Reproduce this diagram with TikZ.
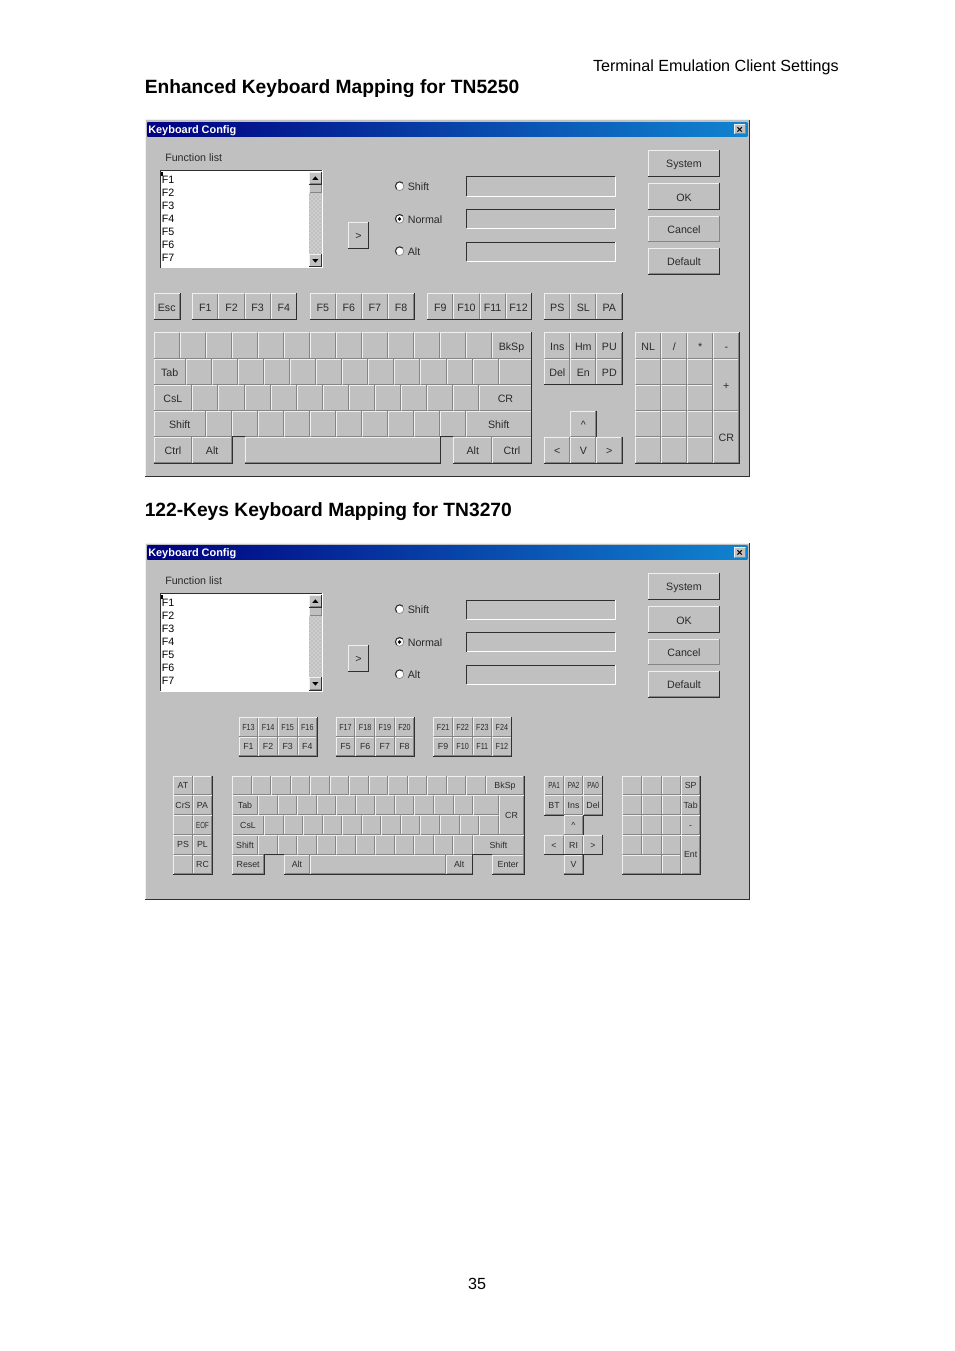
\documentclass[tikz,border=0pt]{standalone}
\usepackage{fontspec}
\setmainfont{Liberation Sans}
\usepackage{xcolor}
\usetikzlibrary{positioning, calc, patterns}

\definecolor{panelgrey}{HTML}{C0C0C0}
\definecolor{keylight}{HTML}{F0F0F0}
\definecolor{keygrey}{HTML}{858585}
\definecolor{keydark}{HTML}{303030}
\definecolor{uitext}{HTML}{2A2A2A}
\definecolor{titleleft}{HTML}{000080}
\definecolor{titleright}{HTML}{1084D0}

\newcommand{\uifont}{\fontsize{8}{8}\selectfont}
\newcommand{\tinyuifont}{\fontsize{6.6}{6.6}\selectfont}
\newcommand{\narrowlabel}[2]{\scalebox{#1}[1]{#2}}

\tikzset{
	keycap/.style={rectangle, fill=panelgrey, inner sep=0pt, outer sep=0pt, anchor=north west, font=\uifont, text=uitext, text height=6.8pt, text depth=0pt},
	keylite/.style={draw=keylight, line width=0.75pt},
	keyshade/.style={draw=keygrey, line width=0.75pt},
	keyrim/.style={draw=keydark, line width=0.75pt},
	radiobox/.style={circle, fill=white, draw=keygrey, line width=0.5pt, inner sep=0pt, minimum size=6.4pt},
	uilabel/.style={font=\uifont, text=uitext, inner sep=0pt, text height=6.8pt, text depth=0pt},
	pageline/.style={font=\fontsize{12.1}{12.1}\selectfont, inner sep=0pt},
	headline/.style={font=\fontsize{14.4}{14.4}\selectfont\bfseries, inner sep=0pt, anchor=base west},
}

% name, left, top, right, bottom, label
\newcommand{\keycap}[6]{%
	\node[keycap, minimum width={((#4)-(#2))*0.75pt}, minimum height={((#5)-(#3))*0.75pt}] (#1) at (#2,#3) {#6};
	\draw[keylite] ([shift={(.5,-.5)}]#1.south west) |- ([shift={(-.5,.5)}]#1.north east);
	\draw[keyshade] ([shift={(.5,-.5)}]#1.south west) -| ([shift={(-.5,.5)}]#1.north east);
}
% sunken box
\newcommand{\sunkenbox}[6]{%
	\node[keycap, fill=#6, minimum width={((#4)-(#2))*0.75pt}, minimum height={((#5)-(#3))*0.75pt}] (#1) at (#2,#3) {};
	\draw[draw=white, line width=0.75pt] ([shift={(.5,-.5)}]#1.south west) -| ([shift={(-.5,.5)}]#1.north east);
	\draw[keyrim] ([shift={(.5,-.5)}]#1.south west) |- ([shift={(-.5,.5)}]#1.north east);
}
% row of plain keys: prefix, first left, pitch, count, top, bottom
\newcommand{\keyrow}[6]{%
	\foreach \i in {1,...,#4} {
		\pgfmathsetmacro{\xa}{#2+(\i-1)*#3}
		\pgfmathsetmacro{\xb}{#2+\i*#3}
		\keycap{#1\i}{\xa}{#5}{\xb}{#6}{}
	}
}
% the part both windows share
\newcommand{\configwindow}[1]{%
	\node[rectangle, fill=panelgrey, inner sep=0pt, anchor=north west, minimum width=453pt, minimum height=267pt] (#1win) at (145,120) {};
	\draw[draw=keylight, line width=0.75pt] (#1win.south west) |- (#1win.north east);
	\draw[draw=keydark, line width=0.75pt] (#1win.south west) -| (#1win.north east);
	\node[rectangle, left color=titleleft, right color=titleright, inner sep=0pt, anchor=north west, minimum width=450pt, minimum height=11pt] (#1title) at (147,122) {};
	\node[font=\fontsize{8.2}{8.2}\selectfont\bfseries, text=white, inner sep=0pt, anchor=west] (#1caption) at (148,131) {Keyboard Config};
	\keycap{#1close}{734}{124}{745.5}{134.5}{\textcolor{black}{\textbf{×}}}

	% list
	\node[uilabel, anchor=west] (#1funclabel) at (165,157) {Function list};
	\sunkenbox{#1list}{160}{170}{322.7}{268.5}{white}
	\foreach \t [count=\j from 0] in {F1,F2,F3,F4,F5,F6,F7} {
		\pgfmathsetmacro{\yy}{179+13*\j}
		\node[uilabel, text=black, anchor=west] (#1item\j) at (161.5,\yy) {\t};
	}
	\node[rectangle, fill=black, inner sep=0pt, minimum width=0.9pt, minimum height=3pt, anchor=north] (#1cursor) at (162,172) {};
	\node[keycap, fill=panelgrey, postaction={pattern=crosshatch dots, pattern color=white}, minimum width=9.5pt, minimum height=46pt] (#1track) at (309,192.7) {};
	\keycap{#1sbup}{309}{172.3}{321.7}{184.3}{}
	\keycap{#1sbthumb}{309}{184.3}{321.7}{192.7}{}
	\keycap{#1sbdown}{309}{254.3}{321.7}{267}{}
	\draw[keyrim] (#1sbup.south west) -| (#1sbup.north east);
	\draw[keyrim] (#1sbdown.south west) -| (#1sbdown.north east);
	\fill[black] ([shift={(-3,1.5)}]#1sbup.center) -- ([shift={(3,1.5)}]#1sbup.center) -- ([shift={(0,-2)}]#1sbup.center) -- cycle;
	\fill[black] ([shift={(-3,-1.5)}]#1sbdown.center) -- ([shift={(3,-1.5)}]#1sbdown.center) -- ([shift={(0,2)}]#1sbdown.center) -- cycle;
	\keycap{#1pick}{348.3}{222}{368.7}{248.7}{>}
	\draw[keyrim] (#1pick.south west) -| (#1pick.north east);

	% radios and fields
	\foreach \nm/\t/\yy in {shift/Shift/186.3, normal/Normal/219, alt/Alt/251.3} {
		\node[radiobox] (#1\nm) at (399.5,\yy) {};
		\draw[keyrim] (#1\nm.45) arc[start angle=45, end angle=225, radius=3.2pt];
		\node[uilabel, right=2.6pt of #1\nm] (#1\nm label) {\t};
	}
	\fill[black] (#1normal) circle[radius=1.4pt];
	\sunkenbox{#1fielda}{466}{176.5}{615.7}{196.7}{panelgrey}
	\sunkenbox{#1fieldb}{466}{209}{615.7}{229}{panelgrey}
	\sunkenbox{#1fieldc}{466}{241.7}{615.7}{261.7}{panelgrey}

	% buttons
	\keycap{#1system}{648.3}{150}{719.7}{176.7}{System}
	\keycap{#1ok}{648.3}{183.3}{719.7}{209.7}{OK}
	\keycap{#1cancel}{648.3}{215.7}{719.7}{241.7}{Cancel}
	\keycap{#1default}{648.3}{248.3}{719.7}{274.3}{Default}
	\draw[keyrim] (#1system.south west) -| (#1system.north east);
	\draw[keyrim] (#1ok.south west) -| (#1ok.north east);
	\draw[keyrim] (#1default.south west) -| (#1default.north east);
	\draw[keyshade] (#1cancel.south west) -| (#1cancel.north east);
}

\begin{document}
\begin{tikzpicture}[x=0.75pt, y=-0.75pt]
	\useasboundingbox[fill=white] (0,0) rectangle (954,1351);

	% Page text
	\node[pageline, anchor=base east] (runhead) at (839,71.5) {Terminal Emulation Client Settings};
	\node[headline] (headone) at (144.5,93.5) {Enhanced Keyboard Mapping for TN5250};
	\node[headline] (headtwo) at (144.5,516.5) {122-Keys Keyboard Mapping for TN3270};
	\node[pageline, anchor=base] (pagenum) at (477,1289) {35};

	% First window
	\configwindow{a}

	% Function keys
	\keycap{esc}{153.5}{293.5}{180}{320}{Esc}
	\draw[keyrim] (esc.south west) -| (esc.north east);
	\foreach \t [count=\i from 0] in {F1,F2,F3,F4} {
		\pgfmathsetmacro{\xa}{192.3+26.15*\i}
		\pgfmathsetmacro{\xb}{192.3+26.15*(\i+1)}
		\keycap{fa\i}{\xa}{293.5}{\xb}{320}{\t}
	}
	\foreach \t [count=\i from 0] in {F5,F6,F7,F8} {
		\pgfmathsetmacro{\xa}{309.7+26.1*\i}
		\pgfmathsetmacro{\xb}{309.7+26.1*(\i+1)}
		\keycap{fb\i}{\xa}{293.5}{\xb}{320}{\t}
	}
	\foreach \t [count=\i from 0] in {F9,F10,F11,F12} {
		\pgfmathsetmacro{\xa}{427.3+26.1*\i}
		\pgfmathsetmacro{\xb}{427.3+26.1*(\i+1)}
		\keycap{fc\i}{\xa}{293.5}{\xb}{320}{\t}
	}
	\foreach \t [count=\i from 0] in {PS,SL,PA} {
		\pgfmathsetmacro{\xa}{544.3+26*\i}
		\pgfmathsetmacro{\xb}{544.3+26*(\i+1)}
		\keycap{fd\i}{\xa}{293.5}{\xb}{320}{\t}
	}
	\draw[keyrim] (fa0.south west) -| (fa3.north east);
	\draw[keyrim] (fb0.south west) -| (fb3.north east);
	\draw[keyrim] (fc0.south west) -| (fc3.north east);
	\draw[keyrim] (fd0.south west) -| (fd2.north east);

	% Main block
	\keyrow{ra}{153.5}{26}{13}{332.5}{358.7}
	\keycap{bksp}{491.5}{332.5}{531.5}{358.7}{BkSp}
	\keycap{tab}{153.5}{358.7}{186}{384.7}{Tab}
	\keyrow{rb}{186}{26.05}{12}{358.7}{384.7}
	\keycap{rbend}{498.6}{358.7}{531.5}{384.7}{}
	\keycap{csl}{153.5}{384.7}{192.3}{410.7}{CsL}
	\keyrow{rc}{192.3}{26.1}{11}{384.7}{410.7}
	\keycap{cr}{479.4}{384.7}{531.5}{410.7}{CR}
	\keycap{shl}{153.5}{410.7}{206}{436.7}{Shift}
	\keyrow{rd}{206}{26}{10}{410.7}{436.7}
	\keycap{shr}{466}{410.7}{531.5}{436.7}{Shift}
	\keycap{ctl}{153.5}{436.7}{192.3}{463.3}{Ctrl}
	\keycap{all}{192.3}{436.7}{232}{463.3}{Alt}
	\keycap{space}{244.7}{436.7}{440.7}{463.3}{}
	\keycap{alr}{453.3}{436.7}{492.3}{463.3}{Alt}
	\keycap{ctr}{492.3}{436.7}{531.5}{463.3}{Ctrl}
	\draw[keyrim] (ctl.south west) -| (all.north east) -- (space.north west);
	\draw[keyrim] (space.south west) -| (space.north east) -- (alr.north west);
	\draw[keyrim] (alr.south west) -| (bksp.north east);

	% Edit block and arrows
	\foreach \t [count=\i from 0] in {Ins,Hm,PU} {
		\pgfmathsetmacro{\xa}{544.3+26*\i}
		\pgfmathsetmacro{\xb}{544.3+26*(\i+1)}
		\keycap{ea\i}{\xa}{332.5}{\xb}{358.7}{\t}
	}
	\foreach \t [count=\i from 0] in {Del,En,PD} {
		\pgfmathsetmacro{\xa}{544.3+26*\i}
		\pgfmathsetmacro{\xb}{544.3+26*(\i+1)}
		\keycap{eb\i}{\xa}{358.7}{\xb}{384.7}{\t}
	}
	\draw[keyrim] (eb0.south west) -| (ea2.north east);
	\keycap{up}{570.3}{410.7}{596.3}{436.7}{\textasciicircum}
	\keycap{lt}{544.3}{436.7}{570.3}{463.3}{<}
	\keycap{dn}{570.3}{436.7}{596.3}{463.3}{V}
	\keycap{rt}{596.3}{436.7}{622.3}{463.3}{>}
	\draw[keyrim] (up.north east) -- (up.south east);
	\draw[keyrim] (lt.south west) -| (rt.north east);

	% Numeric pad
	\foreach \t [count=\i from 0] in {NL,/,*,-} {
		\pgfmathsetmacro{\xa}{635.3+26*\i}
		\pgfmathsetmacro{\xb}{635.3+26*(\i+1)}
		\keycap{na\i}{\xa}{332.5}{\xb}{358.7}{\t}
	}
	\keyrow{nb}{635.3}{26}{3}{358.7}{384.7}
	\keyrow{nc}{635.3}{26}{3}{384.7}{410.7}
	\keyrow{nd}{635.3}{26}{3}{410.7}{436.7}
	\keyrow{ne}{635.3}{26}{3}{436.7}{463.3}
	\keycap{plus}{713.3}{358.7}{739.3}{410.7}{+}
	\keycap{ncr}{713.3}{410.7}{739.3}{463.3}{CR}
	\draw[keyrim] (ne1.south west) -| (na3.north east);

	% Second window
	\begin{scope}[shift={(0,423)}]
		\configwindow{b}
	\end{scope}

	\begin{scope}[keycap/.append style={font=\tinyuifont, text height=4.9pt, text depth=0pt}]
		% Function keys
		\foreach \t [count=\i from 0] in {F13,F14,F15,F16} {
			\pgfmathsetmacro{\xa}{238.7+19.6*\i}
			\pgfmathsetmacro{\xb}{238.7+19.6*(\i+1)}
			\keycap{ga\i}{\xa}{717.3}{\xb}{736.7}{\narrowlabel{0.82}{\t}}
		}
		\foreach \t [count=\i from 0] in {F1,F2,F3,F4} {
			\pgfmathsetmacro{\xa}{238.7+19.6*\i}
			\pgfmathsetmacro{\xb}{238.7+19.6*(\i+1)}
			\keycap{gb\i}{\xa}{736.7}{\xb}{756.3}{\t}
		}
		\foreach \t [count=\i from 0] in {F17,F18,F19,F20} {
			\pgfmathsetmacro{\xa}{335.7+19.65*\i}
			\pgfmathsetmacro{\xb}{335.7+19.65*(\i+1)}
			\keycap{gc\i}{\xa}{717.3}{\xb}{736.7}{\narrowlabel{0.82}{\t}}
		}
		\foreach \t [count=\i from 0] in {F5,F6,F7,F8} {
			\pgfmathsetmacro{\xa}{335.7+19.65*\i}
			\pgfmathsetmacro{\xb}{335.7+19.65*(\i+1)}
			\keycap{gd\i}{\xa}{736.7}{\xb}{756.3}{\t}
		}
		\foreach \t [count=\i from 0] in {F21,F22,F23,F24} {
			\pgfmathsetmacro{\xa}{433.3+19.6*\i}
			\pgfmathsetmacro{\xb}{433.3+19.6*(\i+1)}
			\keycap{ge\i}{\xa}{717.3}{\xb}{736.7}{\narrowlabel{0.82}{\t}}
		}
		\foreach \t [count=\i from 0] in {F9,F10,F11,F12} {
			\pgfmathsetmacro{\xa}{433.3+19.6*\i}
			\pgfmathsetmacro{\xb}{433.3+19.6*(\i+1)}
			\ifnum\i=0 \keycap{gf\i}{\xa}{736.7}{\xb}{756.3}{\t}\else \keycap{gf\i}{\xa}{736.7}{\xb}{756.3}{\narrowlabel{0.82}{\t}}\fi
		}
		\draw[keyrim] (gb0.south west) -| (ga3.north east);
		\draw[keyrim] (gd0.south west) -| (gc3.north east);
		\draw[keyrim] (gf0.south west) -| (ge3.north east);

		% Left block
		\foreach \t/\u [count=\i from 0] in {AT/{},CrS/PA,{}/{\narrowlabel{0.7}{EOF}},PS/PL,{}/RC} {
			\pgfmathsetmacro{\ya}{775.7+19.7*\i}
			\pgfmathsetmacro{\yb}{775.7+19.7*(\i+1)}
			\keycap{la\i}{173.3}{\ya}{192.7}{\yb}{\t}
			\keycap{lb\i}{192.7}{\ya}{212.3}{\yb}{\u}
		}
		\draw[keyrim] (la4.south west) -| (lb0.north east);

		% Main block
		\keyrow{ma}{232}{19.52}{13}{775.7}{795.3}
		\keycap{mbksp}{485.7}{775.7}{524.3}{795.3}{BkSp}
		\keycap{mtab}{232}{795.3}{258}{815.3}{Tab}
		\keyrow{mb}{258}{19.55}{11}{795.3}{815.3}
		\keycap{mbend}{473}{795.3}{498.7}{815.3}{}
		\keycap{mcsl}{232}{815.3}{264}{835}{CsL}
		\keyrow{mc}{264}{19.55}{12}{815.3}{835}
		\keycap{mcr}{498.7}{795.3}{524.3}{835}{CR}
		\keycap{mshl}{232}{835}{258}{854.7}{Shift}
		\keyrow{md}{258}{19.5}{11}{835}{854.7}
		\keycap{mshr}{472.5}{835}{524.3}{854.7}{Shift}
		\keycap{mreset}{232}{854.7}{264.3}{874.3}{Reset}
		\keycap{malt}{284}{854.7}{310}{874.3}{Alt}
		\keycap{mspace}{310}{854.7}{446}{874.3}{}
		\keycap{malr}{446}{854.7}{472.5}{874.3}{Alt}
		\keycap{menter}{492}{854.7}{524.3}{874.3}{Enter}
		\draw[keyrim] (mreset.south west) -| (mreset.north east) -- (malt.north west);
		\draw[keyrim] (malt.south west) -| (malr.north east) -- (menter.north west);
		\draw[keyrim] (menter.south west) -| (mbksp.north east);

		% Edit block and arrows
		\foreach \t [count=\i from 0] in {PA1,PA2,PA0} {
			\pgfmathsetmacro{\xa}{544.3+19.5*\i}
			\pgfmathsetmacro{\xb}{544.3+19.5*(\i+1)}
			\keycap{pa\i}{\xa}{775.7}{\xb}{795.3}{\narrowlabel{0.72}{\t}}
		}
		\foreach \t [count=\i from 0] in {BT,Ins,Del} {
			\pgfmathsetmacro{\xa}{544.3+19.5*\i}
			\pgfmathsetmacro{\xb}{544.3+19.5*(\i+1)}
			\keycap{pb\i}{\xa}{795.3}{\xb}{815.3}{\t}
		}
		\keycap{aup}{563.8}{815.3}{583.3}{835}{\textasciicircum}
		\keycap{alt}{544.3}{835}{563.8}{854.7}{<}
		\keycap{arl}{563.8}{835}{583.3}{854.7}{RI}
		\keycap{art}{583.3}{835}{602.8}{854.7}{>}
		\keycap{adn}{563.8}{854.7}{583.3}{874.3}{V}
		\draw[keyrim] (pb0.south west) -- (pb0.south east);
		\draw[keyrim] (pb2.south west) -| (pa2.north east);
		\draw[keyrim] (aup.south east) -- (aup.north east);
		\draw[keyrim] (alt.south west) -| (art.north east);
		\draw[keyrim] (adn.south west) -| (adn.north east);

		% Numeric pad
		\keyrow{qa}{622.3}{19.6}{3}{775.7}{795.3}
		\keycap{qsp}{681}{775.7}{700.3}{795.3}{SP}
		\keyrow{qb}{622.3}{19.6}{3}{795.3}{815.3}
		\keycap{qtab}{681}{795.3}{700.3}{815.3}{Tab}
		\keyrow{qc}{622.3}{19.6}{3}{815.3}{835}
		\keycap{qmin}{681}{815.3}{700.3}{835}{-}
		\keyrow{qd}{622.3}{19.6}{3}{835}{854.7}
		\keycap{qent}{681}{835}{700.3}{874.3}{Ent}
		\keycap{qwide}{622.3}{854.7}{661.7}{874.3}{}
		\keycap{qe}{661.7}{854.7}{681}{874.3}{}
		\draw[keyrim] (qwide.south west) -| (qsp.north east);
	\end{scope}
\end{tikzpicture}
\end{document}
